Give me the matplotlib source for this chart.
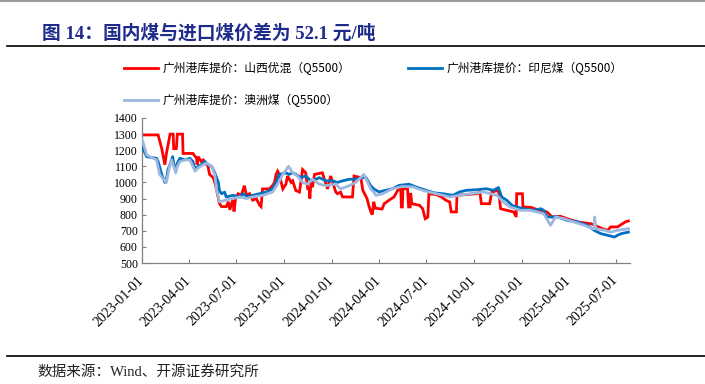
import matplotlib
matplotlib.use("Agg")
import matplotlib.pyplot as plt
import matplotlib.dates as mdates
import pandas as pd
from matplotlib.lines import Line2D

# ---------------- data ----------------
red_dates = ["2023-01-01","2023-02-01","2023-02-08","2023-02-14","2023-02-17","2023-02-24","2023-03-02","2023-03-03",
 "2023-03-08","2023-03-10","2023-03-20","2023-03-21","2023-04-09","2023-04-16","2023-04-17","2023-04-19","2023-04-25",
 "2023-04-29","2023-05-08","2023-05-11","2023-05-18","2023-05-21","2023-05-24","2023-05-30","2023-06-03","2023-06-12",
 "2023-06-16","2023-06-19","2023-06-25","2023-06-27","2023-06-30","2023-07-05","2023-07-11","2023-07-17","2023-07-21",
 "2023-07-27","2023-08-02","2023-08-09","2023-08-15","2023-08-18","2023-08-21","2023-09-03","2023-09-09","2023-09-13",
 "2023-09-16","2023-09-19","2023-09-22","2023-09-26","2023-09-29","2023-10-05","2023-10-08","2023-10-15","2023-10-18",
 "2023-10-24","2023-10-31","2023-11-06","2023-11-12","2023-11-16","2023-11-19","2023-11-20","2023-11-22","2023-11-25",
 "2023-11-29","2023-12-14","2023-12-21","2023-12-24","2023-12-30","2024-01-03","2024-01-09","2024-01-12","2024-01-18",
 "2024-01-22","2024-02-10","2024-02-13","2024-02-26","2024-03-01","2024-03-09","2024-03-13","2024-03-16","2024-03-19",
 "2024-03-22","2024-03-25","2024-04-07","2024-04-11","2024-04-20","2024-04-30","2024-05-07","2024-05-13","2024-05-14",
 "2024-05-16","2024-05-17","2024-05-26","2024-05-28","2024-05-31","2024-06-01","2024-06-03","2024-06-18","2024-06-24",
 "2024-06-29","2024-07-04","2024-07-06","2024-07-20","2024-07-30","2024-08-08","2024-08-15","2024-08-18","2024-08-28",
 "2024-08-29","2024-10-06","2024-10-12","2024-10-15","2024-10-31","2024-11-04","2024-11-17","2024-11-21","2024-12-03",
 "2024-12-16","2024-12-21","2024-12-22","2025-01-02","2025-01-03","2025-01-19","2025-02-01","2025-02-18","2025-02-28",
 "2025-03-16","2025-03-29","2025-04-18","2025-05-14","2025-06-05","2025-06-15","2025-06-21","2025-07-04","2025-07-19",
 "2025-07-25"]
red_vals = [1295,1295,1210,1110,1180,1300,1300,1210,
 1210,1300,1300,1180,1180,1150,1110,1160,1130,
 1140,1100,1050,1030,1000,960,870,850,850,
 880,830,900,820,900,930,920,980,920,
 930,890,900,860,850,960,960,980,1000,
 1050,1070,1050,1000,960,990,1040,1000,1010,
 950,940,1080,1060,960,960,900,1000,970,
 1050,1060,990,960,1040,1000,940,930,940,
 910,910,1040,1030,950,900,850,820,800,
 880,840,835,868,889,910,951,961,848,
 848,961,961,848,848,935,868,858,837,
 775,785,930,925,910,889,879,817,817,
 920,930,941,868,868,941,951,837,827,
 817,786,930,930,848,845,829,817,786,
 790,775,755,744,713,703,724,724,755,
 761]

blue_dates = ["2023-01-01","2023-01-10","2023-01-29","2023-02-01","2023-02-08","2023-02-14","2023-02-17","2023-02-20",
 "2023-02-27","2023-03-01","2023-03-04","2023-03-07","2023-03-10","2023-03-15","2023-03-25","2023-04-03","2023-04-09",
 "2023-04-13","2023-04-19","2023-04-25","2023-05-02","2023-05-08","2023-05-15","2023-05-21","2023-05-28","2023-05-30",
 "2023-06-03","2023-06-09","2023-06-12","2023-06-25","2023-07-08","2023-07-14","2023-07-24","2023-08-02","2023-08-15",
 "2023-08-28","2023-09-09","2023-09-16","2023-09-22","2023-10-05","2023-10-11","2023-10-18","2023-10-24","2023-11-03",
 "2023-11-12","2023-11-22","2023-12-02","2023-12-08","2023-12-21","2024-01-03","2024-01-12","2024-01-22","2024-02-04",
 "2024-02-16","2024-02-29","2024-03-07","2024-03-16","2024-03-22","2024-04-01","2024-04-14","2024-04-27","2024-05-10",
 "2024-05-29","2024-06-11","2024-07-01","2024-07-17","2024-08-02","2024-08-21","2024-09-03","2024-09-16","2024-10-06",
 "2024-10-25","2024-11-07","2024-11-17","2024-11-23","2024-12-03","2024-12-13","2024-12-22","2025-01-04","2025-01-24",
 "2025-02-06","2025-02-12","2025-02-18","2025-03-10","2025-03-29","2025-04-18","2025-05-07","2025-05-20","2025-06-02",
 "2025-06-15","2025-06-28","2025-07-04","2025-07-11","2025-07-25"]
blue_vals = [1220,1160,1150,1130,1050,1000,1020,1080,
 1140,1160,1100,1080,1120,1150,1140,1150,1130,
 1080,1100,1110,1130,1110,1100,1060,1000,950,
 930,940,910,920,910,930,910,920,930,
 940,960,1000,1050,1060,1050,1060,1050,1030,
 1040,1010,1020,1030,1010,1010,1000,1010,1020,
 1020,1030,1030,980,960,941,951,961,982,
 989,972,951,935,930,920,941,951,955,
 961,951,968,910,889,858,848,837,827,
 837,827,786,786,765,755,734,703,682,
 672,661,672,682,692]

lblue_dates = ["2023-01-01","2023-01-10","2023-01-29","2023-02-04","2023-02-14","2023-02-17","2023-02-20","2023-02-25",
 "2023-02-27","2023-03-04","2023-03-07","2023-03-10","2023-03-15","2023-03-25","2023-04-03","2023-04-09","2023-04-13",
 "2023-04-19","2023-04-29","2023-05-05","2023-05-15","2023-05-21","2023-05-24","2023-05-30","2023-06-12","2023-06-25",
 "2023-07-08","2023-07-21","2023-08-02","2023-08-21","2023-09-09","2023-09-19","2023-09-29","2023-10-10","2023-10-18",
 "2023-10-27","2023-11-06","2023-11-16","2023-11-25","2023-12-08","2023-12-21","2024-01-09","2024-01-18","2024-02-04",
 "2024-02-16","2024-03-03","2024-03-09","2024-03-16","2024-03-22","2024-03-26","2024-04-08","2024-04-27","2024-05-16",
 "2024-06-05","2024-06-24","2024-07-20","2024-08-15","2024-09-03","2024-09-23","2024-10-19","2024-11-14","2024-11-26",
 "2024-12-09","2024-12-29","2025-01-17","2025-01-30","2025-02-12","2025-02-25","2025-03-07","2025-03-23","2025-04-11",
 "2025-05-01","2025-05-17","2025-05-20","2025-05-21","2025-05-23","2025-06-09","2025-06-21","2025-07-04","2025-07-25"]
lblue_vals = [1270,1170,1140,1050,1010,1000,1050,1130,
 1140,1090,1060,1100,1130,1140,1140,1100,1070,
 1090,1110,1120,1100,1050,960,880,890,900,
 910,900,910,920,940,990,1050,1100,1060,
 1040,1000,990,1020,990,980,990,960,980,
 1000,1050,1010,960,940,920,930,961,975,
 972,951,930,910,920,930,941,920,879,
 848,827,827,817,806,734,786,775,755,
 734,713,713,786,713,703,692,703,713]

series_names = ["广州港库提价：山西优混（Q5500）", "广州港库提价：印尼煤（Q5500）", "广州港库提价：澳洲煤（Q5500）"]
series_colors = ["#FF0000", "#0070C0", "#9DB7DE"]
x_ticks = ["2023-01-01","2023-04-01","2023-07-01","2023-10-01","2024-01-01","2024-04-01","2024-07-01",
           "2024-10-01","2025-01-01","2025-04-01","2025-07-01"]
y_ticks = [500,600,700,800,900,1000,1100,1200,1300,1400]

title = "图 14：国内煤与进口煤价差为 52.1 元/吨"
source = "数据来源：Wind、开源证券研究所"

# ---------------- figure ----------------
CJK = ["Liberation Serif", "Noto Sans CJK SC"]
plt.rcParams["font.family"] = CJK

fig = plt.figure(figsize=(7.05, 3.84), dpi=100)
ax = fig.add_axes([142/705, 1-263/384, (630-142)/705, (263-118)/384])

LW = 2.0
ax.plot(pd.to_datetime(red_dates), red_vals, color=series_colors[0], lw=LW, solid_joinstyle="miter", zorder=2)
ax.plot(pd.to_datetime(blue_dates), blue_vals, color=series_colors[1], lw=LW, zorder=3)
ax.plot(pd.to_datetime(lblue_dates), lblue_vals, color=series_colors[2], lw=LW, zorder=4)

ax.set_xlim(pd.Timestamp("2023-01-01"), pd.Timestamp("2025-07-28"))
ax.set_ylim(500, 1400)
ax.set_yticks(y_ticks)
ax.set_xticks(pd.to_datetime(x_ticks))
ax.set_xticklabels(x_ticks, rotation=45, ha="right", va="center", rotation_mode="anchor", fontsize=10)
for s in ["top", "right"]:
    ax.spines[s].set_visible(False)
for s in ["left", "bottom"]:
    ax.spines[s].set_color("#808080")
    ax.spines[s].set_linewidth(0.9)
ax.tick_params(axis="both", direction="in", length=3, color="#808080", labelcolor="#000000")
ax.tick_params(axis="y", labelsize=8.5, pad=3)
ax.tick_params(axis="x", pad=11)

handles = [Line2D([], [], color=series_colors[0], lw=LW),
           Line2D([], [], color=series_colors[2], lw=LW),
           Line2D([], [], color=series_colors[1], lw=LW)]
labels = [series_names[0], series_names[2], series_names[1]]
fig.legend(handles, labels, loc="upper left", bbox_to_anchor=(124/705, 1-62/384), ncol=2, frameon=False,
           prop={"family": ["Noto Sans CJK SC"], "size": 8.5}, handlelength=2.9, handletextpad=0.35,
           columnspacing=4.9, labelspacing=1.6, borderaxespad=0, borderpad=0)

fig.text(42/705, 1-33/384, title, fontsize=13.5, fontweight="bold", color="#1F2B8C", va="center", ha="left",
         family=CJK)
fig.text(37/705, 1-372/384, source, fontsize=10.5, color="#222222", va="center", ha="left", family=CJK)

fig.add_artist(Line2D([7/705, 1.0], [1-46/384, 1-46/384], transform=fig.transFigure, color="black", lw=1.2))
fig.add_artist(Line2D([7/705, 1.0], [1-356/384, 1-356/384], transform=fig.transFigure, color="black", lw=1.2))
fig.add_artist(Line2D([0, 1.0], [1-0.5/384, 1-0.5/384], transform=fig.transFigure, color="#9A9A9A", lw=1.5))

fig.savefig("out.png", dpi=100)
